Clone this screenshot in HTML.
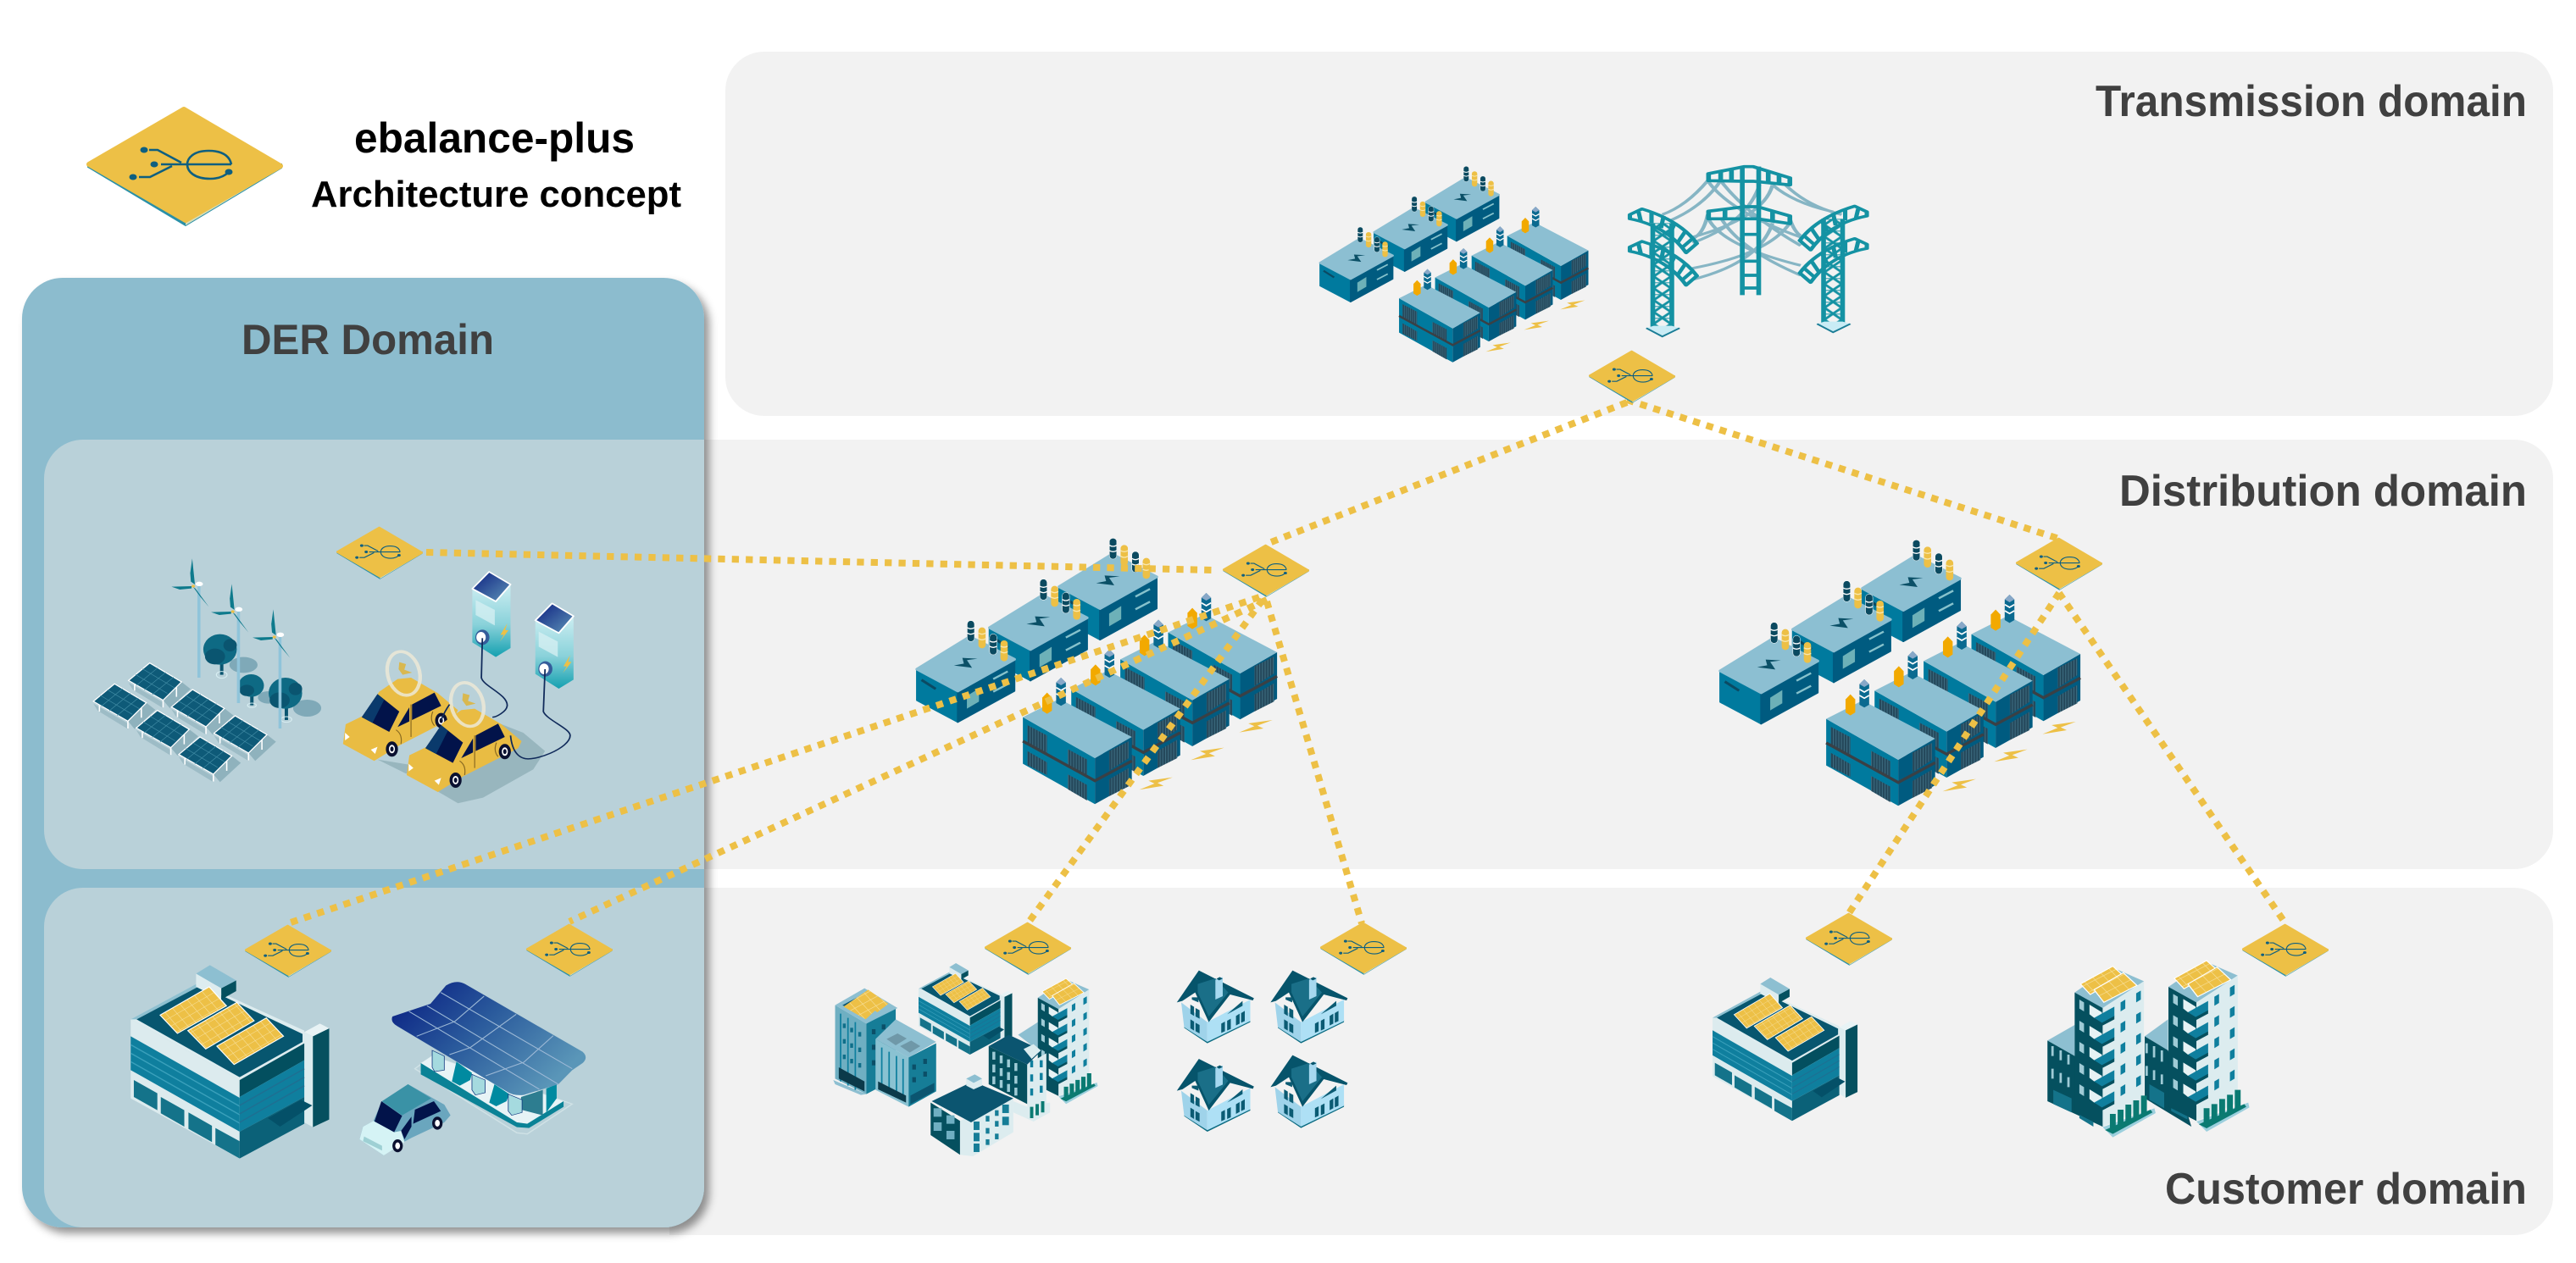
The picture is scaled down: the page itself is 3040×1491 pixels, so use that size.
<!DOCTYPE html>
<html lang="en"><head><meta charset="utf-8"><title>ebalance-plus Architecture concept</title>
<style>html,body{margin:0;padding:0;background:#fff}svg{display:block}text{font-family:"Liberation Sans",sans-serif;font-weight:bold}</style></head>
<body>
<svg xmlns="http://www.w3.org/2000/svg" width="3040" height="1491" viewBox="0 0 3040 1491">
<defs>
<clipPath id="derclip"><rect x="26" y="328" width="805" height="1121" rx="48"/></clipPath>
<filter id="sh" x="-5%" y="-5%" width="110%" height="110%"><feDropShadow dx="6" dy="7" stdDeviation="5" flood-color="#000" flood-opacity=".42"/></filter>
<pattern id="st" width="9" height="20" patternUnits="userSpaceOnUse"><rect width="9" height="20" fill="#24475a"/><rect width="3" height="20" fill="#3d6c80"/></pattern>
<pattern id="sol" width="26" height="26" patternUnits="userSpaceOnUse" patternTransform="rotate(-35)"><rect width="26" height="26" fill="#EDC046"/><path d="M0,0H26M0,0V26" stroke="#F8E2A0" stroke-width="3"/></pattern>
<linearGradient id="pan" x1="0" y1="0" x2="1" y2=".6"><stop offset="0" stop-color="#061a80"/><stop offset=".5" stop-color="#2a5a9c"/><stop offset="1" stop-color="#5a96b8"/></linearGradient>
<linearGradient id="chg" x1="0" y1="0" x2="0" y2="1"><stop offset="0" stop-color="#cdeef2"/><stop offset=".55" stop-color="#8ad2da"/><stop offset="1" stop-color="#14a0b0"/></linearGradient>
<linearGradient id="scr" x1="0" y1="0" x2="1" y2="1"><stop offset="0" stop-color="#0c1f80"/><stop offset="1" stop-color="#5e94b8"/></linearGradient>

<!-- node -->
<g id="nd">
<path d="M-114,2 L1,71 L114,3 L114,-1 L-114,-2Z" fill="#2a90a8" stroke="#2a90a8" stroke-width="2"/>
<path d="M1,71 L114,3 L114,0 L1,66Z" fill="#d5dcb8"/>
<path d="M-1,-66 L113,1 L1,65 L-113,-1Z" fill="#EDC046" stroke="#EDC046" stroke-width="6" stroke-linejoin="round"/>
<g fill="none" stroke="#0E5F80" stroke-width="2.6">
<path d="M-42,-18H-32L-4,-3"/><path d="M-28,-1H55"/><path d="M-54,14H-41L-15,1"/>
<path d="M55,-1C52,-15 38,-17 28,-17C10,-17 3,-8 3,-1C3,8 12,16 30,16C40,16 47,13 52,8"/>
</g>
<g fill="#0E5F80"><ellipse cx="-48" cy="-18" rx="4.5" ry="3.5"/><ellipse cx="-36" cy="-1" rx="4.5" ry="3.5"/><ellipse cx="-61" cy="14" rx="4.5" ry="3.5"/><ellipse cx="52" cy="8" rx="4.5" ry="3.5"/></g>
</g>

<!-- insulators -->
<g id="insD"><rect x="-12" y="0" width="24" height="74" rx="12" fill="#0B4A60" stroke="#fff" stroke-width="1.5"/><path d="M-12,25q12,8 24,0M-12,44q12,8 24,0" stroke="#fff" stroke-width="4" fill="none"/></g>
<g id="insY"><rect x="-12" y="0" width="24" height="74" rx="12" fill="#EDC046"/><path d="M-12,20q12,8 24,0M-12,40q12,8 24,0" stroke="#F8E7AE" stroke-width="4" fill="none"/></g>

<!-- small transformer -->
<g id="bx">
<polygon points="-135,-77 0,0 0,110 -135,33" fill="#007A9E" stroke="#007A9E" stroke-width="6" stroke-linejoin="round"/>
<polygon points="0,0 187,-112 187,0 0,110" fill="#005B80" stroke="#005B80" stroke-width="6" stroke-linejoin="round"/>
<polygon points="-135,-77 40,-192 187,-112 0,0" fill="#8CBFD2" stroke="#8CBFD2" stroke-width="10" stroke-linejoin="round"/>
<polygon points="15,-117 65,-114 30,-109 47,-82 -13,-90 20,-97" fill="#0B5067"/>
<polygon points="30,18 70,-9 70,38 30,63" fill="#6DB1B8"/>
<path d="M117,-42L165,-69M117,3L165,-24" stroke="#86C2CC" stroke-width="7"/>
<path d="M-120,-39L-73,-7" stroke="#0b4a63" stroke-width="9"/>
<use href="#insD" transform="translate(43,-249)"/><use href="#insY" transform="translate(80,-225)"/>
<use href="#insD" transform="translate(117,-202)"/><use href="#insY" transform="translate(153,-179)"/>
</g>

<!-- big stack -->
<g id="stk">
<polygon points="-238,-145 0,0 0,163 -238,20" fill="#007A9E"/>
<polygon points="0,0 122,-75 122,90 0,163" fill="#005B80"/>
<polygon points="-238,-145 -118,-210 122,-75 0,0" fill="#8CBFD2"/>
<g fill="url(#st)">
<polygon points="-223,-117 -158,-80 -158,-15 -223,-50"/><polygon points="-90,-32 -26,5 -26,65 -90,30"/>
<polygon points="-223,-25 -158,15 -158,60 -223,25"/><polygon points="-90,57 -26,95 -26,150 -90,110"/>
<polygon points="47,-25 112,-60 112,0 47,45"/><polygon points="47,75 112,35 112,100 47,135"/>
</g>
<path d="M-238,-60L0,80L122,10" fill="none" stroke="#3a4045" stroke-width="10"/>
<polygon points="-174,-214 -158,-232 -142,-214 -142,-168 -158,-157 -174,-168" fill="#F2A900"/>
<polygon points="-128,-268 -112,-285 -96,-268 -96,-195 -112,-185 -128,-195" fill="#0A6A90"/>
<polygon points="-128,-268 -112,-285 -96,-268 -112,-258" fill="#88a8c8"/>
<path d="M-128,-250l16,10l16,-10M-128,-228l16,10l16,-10" fill="none" stroke="#fff" stroke-width="5"/>
</g>
<polygon id="blt" points="55,-22 -25,-10 -5,0 -55,22 25,8 5,-2" fill="#EDC046"/>

<!-- substation in zoom coordinates -->
<g id="sub">
<use href="#bx" transform="translate(695,295)"/><use href="#bx" transform="translate(465,440)"/><use href="#bx" transform="translate(225,587)"/>
<use href="#stk" transform="translate(1158,525)"/><use href="#stk" transform="translate(1000,620)"/><use href="#stk" transform="translate(838,725)"/><use href="#stk" transform="translate(678,825)"/>
<use href="#blt" transform="translate(880,915)"/><use href="#blt" transform="translate(1050,810)"/><use href="#blt" transform="translate(1210,712)"/>
</g>

<!-- pylon parts -->
<pattern id="lat" width="40" height="42" patternUnits="userSpaceOnUse"><path d="M0,0L40,42M40,0L0,42" stroke="#1492A3" stroke-width="7"/><path d="M0,0H40" stroke="#1492A3" stroke-width="6"/></pattern>
<g id="tw"><rect x="-20" y="0" width="40" height="372" fill="url(#lat)"/><path d="M-22,0V372M22,0V372" stroke="#1492A3" stroke-width="11" fill="none"/></g>
<g id="arm" fill="none" stroke="#1492A3" stroke-width="10" stroke-linejoin="round">
<path d="M0,0L28,-20Q115,20 155,102L130,135Q85,40 0,15Z"/>
<path d="M20,-10L25,22M50,-10L50,30M78,5L72,48M105,28L92,68M128,60L110,100M145,85L120,118"/>
</g>
<g id="bas"><polygon points="-37,0 0,26 40,0 26,0 0,18 -24,0" fill="#1a7d96"/><polygon points="-37,0 -20,-8 22,-8 40,0 0,26" fill="#c9ecf5"/><path d="M-37,0L0,30L40,0" fill="none" stroke="#1a7d96" stroke-width="5"/></g>

<!-- yellow-roof office in zoom5 coordinates -->
<g id="off">
<polygon points="635,355 660,370 660,692 635,675" fill="#DCECEF"/>
<polygon points="660,370 707,342 707,665 660,692" fill="#06505F"/>
<polygon points="635,355 680,325 707,342 660,370" fill="#E8F3F5"/>
<polygon points="133,310 448,525 448,590 133,370" fill="#DCEBEE"/>
<polygon points="133,370 448,588 448,708 133,490" fill="#0F7F9E"/>
<path d="M133,400L448,618M133,430L448,648M133,460L448,678" stroke="#3aa0bb" stroke-width="4"/>
<polygon points="133,490 448,708 448,803 133,590" fill="#DCEBEE"/>
<g fill="#14738A"><polygon points="142,525 210,572 210,632 142,585"/><polygon points="220,585 288,632 288,690 220,643"/><polygon points="300,640 368,687 368,745 300,698"/><polygon points="378,695 448,742 448,803 378,755"/></g>
<polygon points="448,525 635,395 635,455 448,585" fill="#034F5F"/>
<polygon points="448,585 635,455 635,585 448,708" fill="#0F7F9E"/>
<path d="M448,615L635,485M448,645L635,515M448,675L635,545" stroke="#1F6F92" stroke-width="4"/>
<polygon points="448,708 635,585 635,680 448,803" fill="#0B6178"/>
<polygon points="530,660 625,595 658,615 565,690" fill="#045068"/>
<polygon points="133,310 330,180 635,350 635,395 448,525" fill="#DDECEF"/>
<polygon points="133,310 330,180 335,190 150,310" fill="#8EC0D0"/>
<polygon points="150,310 335,190 630,362 630,390 448,515" fill="#07566F"/>
<polygon points="322,148 395,200 395,240 322,195" fill="#DDECEF"/>
<polygon points="395,200 438,172 438,210 395,240" fill="#05505F"/>
<polygon points="322,148 362,118 438,172 395,200" fill="#8DBFD1"/>
<g stroke="#fff" stroke-width="3">
<polygon points="218,295 360,195 410,262 268,360" fill="url(#sol)"/>
<polygon points="298,350 440,250 490,315 350,415" fill="url(#sol)"/>
<polygon points="382,405 525,305 575,370 432,470" fill="url(#sol)"/>
</g>
</g>

<!-- tower -->
<g id="wu"><polygon points="1058,258 1090,285 1090,305 1070,305 1058,292" fill="#E6F2F4"/><polygon points="1070,305 1122,265 1122,300 1090,325" fill="#0F7F9E"/><polygon points="1070,305 1090,322 1122,298 1122,310 1092,332" fill="#05505F"/><polygon points="1178,218 1190,208 1190,240 1178,250" fill="#0F7F9E"/><polygon points="1138,250 1150,240 1150,272 1138,282" fill="#0F7F9E"/><polygon points="1032,240 1044,250 1044,282 1032,272" fill="#9fcbd6"/></g>
<g id="twr">
<polygon points="1020,215 1115,125 1198,175 1092,270" fill="#8DBFD1"/>
<polygon points="1020,215 1092,270 1092,690 1020,640" fill="#05505F"/>
<polygon points="1092,270 1198,175 1198,625 1092,690" fill="#DCECEF"/>
<use href="#wu"/><use href="#wu" y="75"/><use href="#wu" y="150"/><use href="#wu" y="225"/><use href="#wu" y="300"/>
<polygon points="1092,692 1225,625 1228,642 1118,728" fill="#9CCFDD"/>
<polygon points="1098,702 1215,630 1220,640 1118,716" fill="#0A7A72"/>
<path d="M1118,645V700M1138,630V690M1158,612V675M1178,597V665M1198,580V650" stroke="#0A7A72" stroke-width="15"/>
<polygon points="1035,185 1118,122 1145,155 1060,222" fill="url(#sol)" stroke="#fff" stroke-width="3"/>
<polygon points="1070,205 1145,145 1180,190 1095,250" fill="url(#sol)" stroke="#fff" stroke-width="3"/>
</g>

<!-- house -->
<g id="hs">
<polygon points="1055,340 1118,395 1235,320 1235,312 1118,388 1055,335" fill="#0a6a80"/>
<polygon points="1047,250 1118,320 1118,390 1055,338" fill="#9FD3EA"/>
<polygon points="1118,320 1235,240 1235,316 1118,390" fill="#AEE0F5"/>
<polygon points="1035,250 1095,137 1245,235 1242,243 1180,222 1122,320 1085,215 1050,245" fill="#06546B"/>
<polygon points="1092,185 1140,165 1175,215 1122,300 1092,215" fill="#1A6F88"/>
<polygon points="1140,170 1160,160 1160,228 1140,240" fill="#A6D8EF"/>
<polygon points="1143,166 1152,160 1160,166 1150,172" fill="#06546B"/>
<g fill="#0b5b73">
<polygon points="1072,258 1082,266 1082,298 1072,290"/><polygon points="1086,270 1097,278 1097,308 1086,300"/>
<polygon points="1072,310 1082,318 1082,350 1072,342"/><polygon points="1086,322 1097,330 1097,360 1086,352"/>
<polygon points="1156,325 1166,318 1166,352 1156,358"/><polygon points="1172,315 1182,308 1182,344 1172,350"/>
<polygon points="1196,298 1206,290 1206,325 1196,332"/><polygon points="1210,288 1220,280 1220,316 1210,322"/>
<polygon points="1172,292 1214,245 1214,262 1172,292"/>
<polygon points="1076,232 1094,232 1094,250 1076,240"/>
</g>
</g>
</defs>

<rect width="3040" height="1491" fill="#fff"/>
<!-- panels -->
<rect x="856" y="61" width="2157" height="430" rx="46" fill="#F2F2F2"/>
<rect x="52" y="519" width="2961" height="507" rx="46" fill="#F2F2F2"/>
<path d="M790,1048H2967a46,46 0 0 1 46,46V1412a46,46 0 0 1 -46,46H790Z" fill="#F2F2F2"/>
<rect x="26" y="328" width="805" height="1121" rx="48" fill="#8CBCCE" filter="url(#sh)"/>
<g clip-path="url(#derclip)" fill="#B9D1D9">
<rect x="52" y="519" width="1000" height="507" rx="46"/>
<rect x="52" y="1048" width="1000" height="401" rx="46"/>
</g>

<!-- header -->
<text x="418" y="180" font-size="50" fill="#000" textLength="331" lengthAdjust="spacingAndGlyphs">ebalance-plus</text>
<text x="367" y="244" font-size="44" fill="#000" textLength="437" lengthAdjust="spacingAndGlyphs">Architecture concept</text>
<text x="285" y="418" font-size="50" fill="#404040" textLength="298" lengthAdjust="spacingAndGlyphs">DER Domain</text>
<text x="2473" y="137" font-size="52" fill="#404040" textLength="509" lengthAdjust="spacingAndGlyphs">Transmission domain</text>
<text x="2501" y="597" font-size="52" fill="#404040" textLength="481" lengthAdjust="spacingAndGlyphs">Distribution domain</text>
<text x="2555" y="1421" font-size="52" fill="#404040" textLength="427" lengthAdjust="spacingAndGlyphs">Customer domain</text>

<!-- substations -->
<use href="#sub" transform="translate(1534,185) scale(.266,.2457)"/>
<use href="#sub" transform="translate(1050,620) scale(.3571,.3333)"/>
<use href="#sub" transform="translate(1998,622) scale(.3571,.3333)"/>

<!-- pylons zoom2 coordinates -->
<g transform="translate(1500,150) scale(.5102,.3333)">
<g fill="none" stroke="#86B5C4" stroke-width="9">
<path d="M1010,190Q960,280 905,310M1040,190Q1000,280 925,330M1160,205Q1210,270 1300,300M1190,205Q1240,280 1320,310"/>
<path d="M1010,190Q1060,300 1225,390M1040,190Q1100,310 1225,420M1160,205Q1140,320 975,390M1130,205Q1100,340 975,410"/>
<path d="M1010,320Q1040,420 1225,490M1040,320Q1080,430 1225,525M1200,340Q1150,450 975,500M1160,340Q1130,480 975,540"/>
<path d="M1010,310Q1000,380 975,395M1200,325Q1210,370 1225,385"/>
</g>
<use href="#tw" transform="translate(905,340)"/><use href="#tw" transform="translate(1300,325)"/>
<use href="#bas" transform="translate(905,712)"/><use href="#bas" transform="translate(1300,697)"/>
<use href="#arm" transform="translate(830,310)"/><use href="#arm" transform="translate(830,425)"/>
<use href="#arm" transform="translate(1378,300) scale(-1,1)"/><use href="#arm" transform="translate(1378,415) scale(-1,1)"/>
<g fill="none" stroke="#1492A3" stroke-width="11" stroke-linejoin="round">
<path d="M1090,140V595M1128,140V595M1090,380H1128M1090,475H1128M1090,525H1128M1090,570H1128"/>
<path d="M1012,165L1095,140H1115L1200,180V205L1115,192H1095L1012,190Z"/>
<path d="M1040,155V190M1065,148V190M1150,160V198M1175,170V202"/>
<path d="M1012,298L1095,282H1125L1200,315V342L1125,325H1095L1012,325Z"/>
<path d="M1050,290V325M1160,300V335"/>
</g>
</g>

<!-- DER upper zoom4 coordinates -->
<g transform="translate(60,620) scale(.3954,.3333)">
<defs>
<g id="sp">
<polygon points="-63,70 40,140 40,160 -50,95" fill="#9dbcc6"/><polygon points="95,67 122,92 60,160 40,132" fill="#8fb2bd"/>
<path d="M-45,75V98M40,132V158M80,85V120" stroke="#fff" stroke-width="4"/>
<polygon points="0,0 95,67 40,132 -63,62" fill="#0E5A78" stroke="#fff" stroke-width="3.5"/>
<path d="M24,17L-39,79M47.5,33.5L-15.5,95.5M71,50L8,112M-21,21L74,88M-42,41L53,108" stroke="#3f8aa3" stroke-width="2"/>
</g>
<g id="wt">
<path d="M442,215V540" stroke="#8fc4da" stroke-width="9"/>
<polygon points="422,118 430,210 418,200 416,170" fill="#0E7A8C"/>
<polygon points="360,218 420,216 420,224 385,228" fill="#0E7A8C"/>
<polygon points="472,290 432,225 424,218 445,252" fill="#0E7A8C"/>
<ellipse cx="443" cy="208" rx="11" ry="8" fill="#fff"/><circle cx="425" cy="216" r="5" fill="#EDC046"/>
</g>
<g id="ch">
<polygon points="1258,225 1328,270 1372,210 1372,435 1328,467 1258,415" fill="url(#chg)"/>
<polygon points="1258,225 1308,165 1372,210 1328,270" fill="url(#scr)" stroke="#fff" stroke-width="5" stroke-linejoin="round"/>
<polygon points="1268,265 1325,300 1325,355 1268,318" fill="#d8f0f3" opacity=".75"/>
<ellipse cx="1288" cy="397" rx="21" ry="27" fill="#345c9a"/><ellipse cx="1284" cy="397" rx="14" ry="19" fill="#fff"/>
<polygon points="1362,348 1342,388 1352,388 1340,412 1366,372 1356,372" fill="#EDC046"/>
</g>
<g id="car">
<polygon points="1062,885 1070,815 1122,785 1170,700 1225,655 1265,650 1345,705 1405,765 1395,790 1230,890 1155,945" fill="#E9BC43"/>
<polygon points="1118,790 1165,708 1230,770 1200,842" fill="#02134a"/>
<polygon points="1118,790 1165,708 1185,728 1150,810" fill="#0A3A6C"/>
<polygon points="1268,745 1335,703 1355,750 1268,800" fill="#02134a"/>
<polygon points="1225,825 1260,755 1260,805" fill="#02134a"/>
<path d="M1265,745V860M1220,835Q1240,850 1235,885M1330,770Q1320,800 1335,820" stroke="#8a6a20" stroke-width="3" fill="none"/>
<ellipse cx="1208" cy="903" rx="18" ry="27" fill="#0a1030"/><ellipse cx="1208" cy="903" rx="9" ry="15" fill="#fff"/><ellipse cx="1208" cy="903" rx="5" ry="9" fill="#0a1030"/>
<ellipse cx="1355" cy="802" rx="18" ry="27" fill="#0a1030"/><ellipse cx="1355" cy="802" rx="9" ry="15" fill="#fff"/><ellipse cx="1355" cy="802" rx="5" ry="9" fill="#0a1030"/>
<polygon points="1068,845 1082,860 1068,872" fill="#fff"/><polygon points="1145,905 1165,895 1158,920" fill="#fff"/>
<polygon points="1230,595 1250,602 1245,622 1268,632 1240,640 1228,620" fill="#D9B850"/>
</g>
</defs>
<use href="#sp" transform="translate(295,488)"/><use href="#sp" transform="translate(190,562)"/><use href="#sp" transform="translate(423,582)"/><use href="#sp" transform="translate(318,656)"/><use href="#sp" transform="translate(550,675)"/><use href="#sp" transform="translate(445,750)"/>
<g fill="#7FA9B8"><ellipse cx="575" cy="495" rx="42" ry="28"/><ellipse cx="650" cy="610" rx="32" ry="22"/><ellipse cx="765" cy="648" rx="42" ry="30"/></g>
<g stroke="#0a5570" stroke-width="10"><path d="M510,480V530M600,600V638M703,640V690"/></g>
<g fill="none" stroke="#d8eef2" stroke-width="3"><ellipse cx="510" cy="530" rx="16" ry="12"/><ellipse cx="600" cy="638" rx="13" ry="8"/><ellipse cx="703" cy="688" rx="16" ry="10"/></g>
<g fill="#0E6A84"><ellipse cx="505" cy="440" rx="50" ry="54"/><ellipse cx="598" cy="568" rx="38" ry="40"/><ellipse cx="700" cy="595" rx="50" ry="55"/></g>
<g fill="#0a5570"><ellipse cx="490" cy="465" rx="30" ry="28"/><ellipse cx="585" cy="585" rx="22" ry="20"/><ellipse cx="683" cy="620" rx="30" ry="28"/><ellipse cx="535" cy="425" rx="20" ry="22"/><ellipse cx="730" cy="580" rx="20" ry="22"/></g>
<use href="#wt"/><use href="#wt" transform="translate(118,90)"/><use href="#wt" transform="translate(242,180)"/>
<polygon points="975,830 1060,880 1130,860 1150,940 1215,985 1290,965 1440,865 1475,800 1410,735 1345,705 1130,860" fill="#98B6BE"/>
<use href="#car" transform="translate(-190,-110)"/>
<ellipse cx="1053" cy="525" rx="48" ry="78" fill="none" stroke="#ECE9D6" stroke-width="11" opacity=".85" transform="rotate(-10 1053 525)"/>
<use href="#car"/>
<ellipse cx="1243" cy="635" rx="48" ry="78" fill="none" stroke="#ECE9D6" stroke-width="11" opacity=".85" transform="rotate(-10 1243 635)"/>
<use href="#ch"/><use href="#ch" transform="translate(188,112)"/>
<g fill="none" stroke="#102a5a" stroke-width="4.5">
<path d="M1288,400L1285,540C1290,570 1365,600 1362,640C1360,660 1330,680 1318,680"/>
<path d="M1475,510L1470,660C1480,690 1550,720 1550,745C1550,790 1440,840 1410,825C1385,815 1375,780 1372,745"/>
<path d="M1190,635Q1175,660 1165,690"/>
</g>
</g>

<!-- DER lower zoom5 coordinates -->
<g transform="translate(100,1100) scale(.408,.3333)">
<use href="#off"/>
<polygon points="955,485 1005,440 1410,610 1280,716 1250,712" fill="none" stroke="#d0e2e6" stroke-width="4"/>
<polygon points="972,465 1005,440 1385,600 1280,680 1250,675" fill="#E7F3F6"/>
<polygon points="972,465 1250,675 1280,680 1385,600 1385,620 1285,695 1250,692 972,505" fill="#0A8296"/>
<g fill="#008AA0"><polygon points="1075,460 1120,500 1115,525 1085,545 1062,530"/><polygon points="1185,540 1228,575 1220,600 1190,618 1170,605"/><polygon points="1335,555 1365,540 1365,590 1335,640"/></g>
<polygon points="1262,585 1325,560 1325,650 1262,630" fill="#2d7d90"/>
<g fill="#A5DADF" stroke="#123a80" stroke-width="2"><polygon points="1005,420 1040,440 1040,490 1012,495 1005,480"/><polygon points="1120,505 1158,525 1158,570 1130,578 1120,560"/><polygon points="1225,575 1265,595 1265,640 1235,650 1225,635"/></g>
<path d="M890,300L1000,255L1045,190Q1075,168 1100,185L1440,425Q1458,445 1440,465L1410,490L1370,540L1270,578Q1240,582 1220,565L905,335Q883,320 890,300Z" fill="url(#pan)"/>
<g stroke="#9db9d6" stroke-width="3" fill="none"><path d="M1030,215L1410,485M990,262L1370,540M938,282L1315,558M1155,228L1070,318L960,370M1248,292L1115,410L1055,435M1355,368L1270,462L1160,510"/></g>
<polygon points="860,600 935,540 1040,612 1058,650 1040,675 945,730 900,760 865,792 795,735 805,690 835,670" fill="#6AA6BE"/>
<polygon points="860,600 935,540 1002,590 918,650" fill="#3A92A6"/>
<polygon points="858,600 918,652 895,710 838,672" fill="#02134a"/>
<polygon points="955,630 1010,600 1030,635 950,680" fill="#02134a"/>
<polygon points="915,705 945,655 945,690 925,735" fill="#02134a"/>
<polygon points="795,735 805,690 835,670 895,710 915,705 925,745 865,792" fill="#D5F3F5"/>
<polygon points="808,725 860,758 860,775 805,742" fill="#9ed0d4"/>
<ellipse cx="905" cy="758" rx="15" ry="23" fill="#0a1030"/><ellipse cx="905" cy="758" rx="7" ry="12" fill="#fff"/>
<ellipse cx="1020" cy="678" rx="15" ry="23" fill="#0a1030"/><ellipse cx="1020" cy="678" rx="7" ry="12" fill="#fff"/>
</g>

<!-- customer buildings zoom6 coordinates -->
<use href="#off" transform="translate(1058.4,1118.4) scale(.1925,.1577)"/>
<use href="#off" transform="translate(1981.4,1124.9) scale(.298,.247)"/>
<g transform="translate(940,1100) scale(.4336,.3333)">
<polygon points="100,525 190,575 175,578 105,540" fill="#8DBFD1"/>
<polygon points="105,260 190,325 190,575 105,520" fill="#6FAFC2"/>
<path d="M120,290V530M140,305V545M160,320V560" stroke="#0F7F9E" stroke-width="4"/>
<g fill="#0F6F8A"><rect x="126" y="325" width="8" height="16"/><rect x="146" y="340" width="8" height="16"/><rect x="168" y="355" width="8" height="16"/><rect x="126" y="380" width="8" height="16"/><rect x="146" y="395" width="8" height="16"/><rect x="168" y="410" width="8" height="16"/><rect x="126" y="435" width="8" height="16"/><rect x="146" y="450" width="8" height="16"/><rect x="168" y="465" width="8" height="16"/></g>
<polygon points="115,480 185,530 185,565 115,520" fill="#0b3a4a"/>
<polygon points="190,325 270,270 270,520 190,575" fill="#167D97"/>
<g fill="#0B4F68"><rect x="205" y="345" width="10" height="18"/><rect x="232" y="328" width="10" height="18"/><rect x="205" y="400" width="10" height="18"/><rect x="232" y="383" width="10" height="18"/><rect x="205" y="455" width="10" height="18"/></g>
<polygon points="105,260 185,200 275,270 190,325" fill="#8DBFD1"/>
<polygon points="125,260 165,232 215,275 190,305" fill="#0B5570"/>
<polygon points="128,265 165,232 215,278 188,310" fill="url(#sol)"/>
<polygon points="162,235 195,205 250,255 220,285" fill="url(#sol)"/>
<polygon points="215,380 270,310 380,390 305,445" fill="#8DBFD1"/>
<polygon points="215,380 305,445 305,620 215,560" fill="#8AC2D2"/>
<path d="M232,410V545M252,425V565M272,440V575M290,450V590" stroke="#0F7F9E" stroke-width="4"/>
<polygon points="222,530 298,580 298,605 222,558" fill="#0b3a4a"/>
<polygon points="305,445 380,395 380,565 305,620" fill="#167D97"/>
<g fill="#0B4F68"><rect x="315" y="470" width="10" height="18"/><rect x="345" y="450" width="10" height="18"/><rect x="315" y="515" width="10" height="18"/><rect x="345" y="495" width="10" height="18"/></g>
<polygon points="310,580 375,535 375,565 310,610" fill="#0B5570"/>
<polygon points="245,380 275,360 300,378 270,402" fill="#6f98a8"/><polygon points="282,405 312,385 337,405 308,428" fill="#6f98a8"/>
<polygon points="603,365 657,320 657,420" fill="#8DBFD1"/>
<use href="#twr" transform="translate(-144,76) scale(.785,.733)"/>
<polygon points="523,405 628,470 628,610 523,540" fill="#05505F"/>
<g fill="#9fcbd6"><rect x="533" y="425" width="8" height="28"/><rect x="553" y="438" width="8" height="28"/><rect x="573" y="452" width="8" height="28"/><rect x="593" y="465" width="8" height="28"/><rect x="533" y="470" width="8" height="28"/><rect x="553" y="483" width="8" height="28"/><rect x="573" y="497" width="8" height="28"/><rect x="593" y="510" width="8" height="28"/><rect x="533" y="512" width="8" height="28"/><rect x="553" y="525" width="8" height="28"/><rect x="573" y="539" width="8" height="28"/><rect x="593" y="552" width="8" height="28"/></g>
<polygon points="628,470 680,430 680,610 628,655" fill="#DCECEF"/>
<g fill="#0F7F9E"><rect x="636" y="455" width="8" height="25"/><rect x="662" y="455" width="8" height="25"/><rect x="636" y="505" width="8" height="25"/><rect x="662" y="500" width="8" height="25"/><rect x="636" y="555" width="8" height="25"/><rect x="662" y="545" width="8" height="25"/></g>
<polygon points="590,600 628,620 690,605 690,640 645,672 590,640" fill="#DCECEF"/>
<path d="M640,620V660M655,610V650M670,600V640" stroke="#0A7A72" stroke-width="9"/>
<polygon points="523,405 578,365 668,420 628,470" fill="#0B5570"/>
<polygon points="618,415 645,398 665,420 640,450" fill="#DCECEF"/>
<polygon points="365,605 445,670 445,790 365,720" fill="#05505F"/>
<g fill="#6FAFC2"><rect x="373" y="625" width="22" height="30"/><rect x="408" y="650" width="22" height="30"/><rect x="373" y="675" width="22" height="30"/><rect x="408" y="705" width="22" height="30"/></g>
<polygon points="445,670 590,590 590,710 480,795 445,790" fill="#DCECEF"/>
<g fill="#167D97"><rect x="482" y="672" width="16" height="30"/><rect x="515" y="652" width="10" height="20"/><rect x="540" y="632" width="10" height="20"/><rect x="560" y="612" width="18" height="30"/><rect x="482" y="712" width="16" height="30"/><rect x="515" y="695" width="10" height="20"/><rect x="540" y="670" width="10" height="20"/><rect x="560" y="655" width="18" height="30"/><rect x="482" y="750" width="16" height="30"/><rect x="515" y="735" width="10" height="20"/><rect x="540" y="715" width="10" height="20"/></g>
<polygon points="368,600 480,530 590,590 475,675" fill="#0B5570"/>
<polygon points="462,520 485,505 505,520 505,545 482,558 462,545" fill="#DCECEF"/><polygon points="462,520 485,505 505,520 482,535" fill="#8DBFD1"/>
<use href="#hs"/><use href="#hs" x="255"/><use href="#hs" y="313"/><use href="#hs" x="255" y="300"/>
</g>

<!-- towers zoom7 coordinates -->
<g transform="translate(1980,1100) scale(.4592,.3333)">
<polygon points="1200,370 1260,310 1260,420" fill="#8DBFD1"/><polygon points="1200,370 1260,420 1320,690 1200,590" fill="#05505F"/>
<g stroke="#9fcbd6" stroke-width="6"><path d="M1205,395V430M1224,405V445M1244,420V460M1205,475V510M1224,490V525M1244,505V540"/></g>
<polygon points="1212,540 1250,570 1250,625 1212,595" fill="#14738A"/><polygon points="1268,585 1310,615 1310,665 1268,635" fill="#14738A"/>
<use href="#twr" transform="translate(241,-20)"/>
<polygon points="950,385 1020,330 1020,440" fill="#8DBFD1"/><polygon points="950,385 1020,440 1092,690 950,600" fill="#05505F"/>
<g stroke="#9fcbd6" stroke-width="6"><path d="M963,405V440M984,420V455M1004,435V470M963,485V520M984,500V535M1004,515V550"/></g>
<polygon points="965,560 1012,590 1012,640 965,610" fill="#14738A"/><polygon points="1032,605 1068,630 1068,690 1032,660" fill="#14738A"/>
<use href="#twr"/>
</g>

<!-- connectors -->
<g fill="none" stroke="#EDC046" stroke-width="8" stroke-dasharray="8.3 8.1">
<path d="M1920,475L1495,642"/>
<path d="M1920,472L2430,636"/>
<path d="M503,652L1432,673"/>
<path d="M1486,705L340,1090"/>
<path d="M1495,708L672,1088"/>
<path d="M1490,708L1213,1090"/>
<path d="M1495,710L1607,1090"/>
<path d="M2430,700L2182,1078"/>
<path d="M2430,700L2697,1090"/>
</g>

<!-- nodes -->
<use href="#nd" transform="translate(218,195)"/>
<use href="#nd" transform="translate(1926,444) scale(.44)"/>
<use href="#nd" transform="translate(1494,673) scale(.44)"/>
<use href="#nd" transform="translate(2430,665) scale(.44)"/>
<use href="#nd" transform="translate(448,652) scale(.44)"/>
<use href="#nd" transform="translate(340,1122) scale(.44)"/>
<use href="#nd" transform="translate(672,1121) scale(.44)"/>
<use href="#nd" transform="translate(1213,1119) scale(.44)"/>
<use href="#nd" transform="translate(1609,1119) scale(.44)"/>
<use href="#nd" transform="translate(2182,1108) scale(.44)"/>
<use href="#nd" transform="translate(2697,1121) scale(.44)"/>
</svg>
</body></html>
